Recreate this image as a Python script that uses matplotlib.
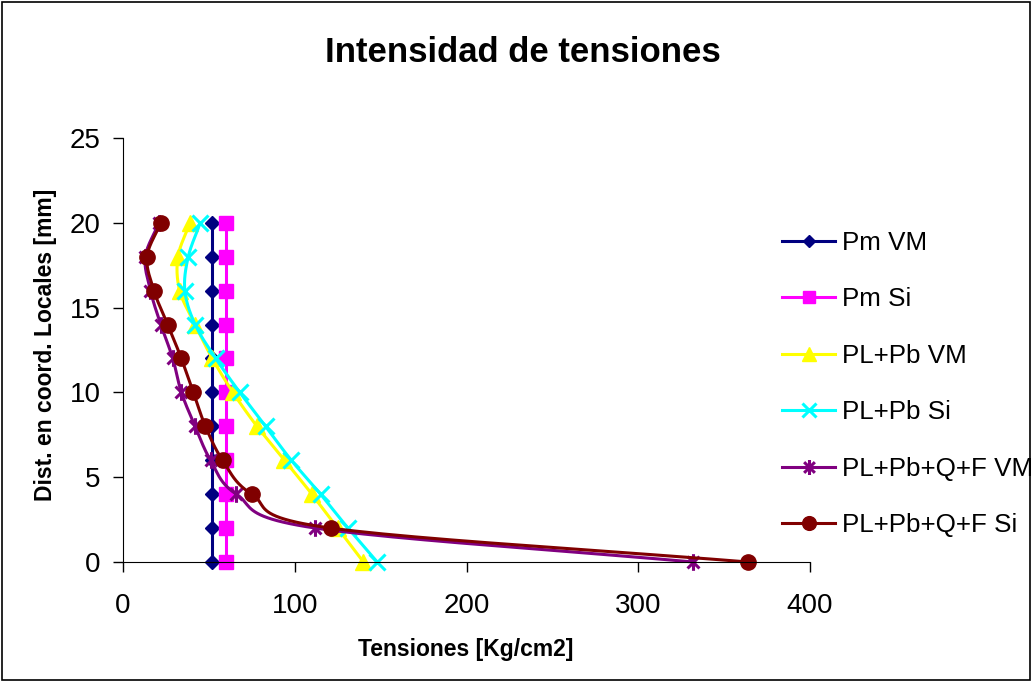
import numpy as np
import matplotlib.pyplot as plt
from matplotlib.path import Path
from matplotlib.patches import Rectangle

plt.rcParams['font.family'] = ['Liberation Sans', 'DejaVu Sans']

# distance along local coordinates [mm]
dist = [0, 2, 4, 6, 8, 10, 12, 14, 16, 18, 20]

# stresses [Kg/cm2] at each distance
pm_vm = [52, 52, 52, 52, 52, 52, 52, 52, 52, 52, 52]
pm_si = [60, 60, 60, 60, 60, 60, 60, 60, 60, 60, 60]
plpb_vm = [140, 125, 110, 94, 78, 64, 52, 42, 33, 32, 39]
plpb_si = [148, 131, 115, 98, 83, 68, 54, 42, 36, 38, 45]
plpbqf_vm = [332, 112, 66, 51, 42, 34, 29, 22, 16, 13, 21]
plpbqf_si = [364, 121, 75, 58, 48, 41, 34, 26, 18, 14, 22]

labels = ["Pm VM", "Pm Si", "PL+Pb VM", "PL+Pb Si", "PL+Pb+Q+F VM", "PL+Pb+Q+F Si"]
series = [pm_vm, pm_si, plpb_vm, plpb_si, plpbqf_vm, plpbqf_si]
colors = ["#000080", "#FF00FF", "#FFFF00", "#00FFFF", "#800080", "#800000"]

# asterisk marker: x with a vertical bar
star = Path([(-0.5, -0.5), (0.5, 0.5), (-0.5, 0.5), (0.5, -0.5), (0, -0.7), (0, 0.7)],
            [Path.MOVETO, Path.LINETO, Path.MOVETO, Path.LINETO, Path.MOVETO, Path.LINETO])
markers = ["D", "s", "^", "x", star, "o"]
msizes = [7, 10, 11, 11, 12, 11]


def smooth(xs, ys, n=24):
    # parametric Catmull-Rom through the points (spreadsheet-style smoothed line)
    px = np.array(xs, float)
    py = np.array(ys, float)
    px = np.concatenate([[2 * px[0] - px[1]], px, [2 * px[-1] - px[-2]]])
    py = np.concatenate([[2 * py[0] - py[1]], py, [2 * py[-1] - py[-2]]])
    ox, oy = [], []
    t = np.linspace(0, 1, n)
    for i in range(1, len(px) - 2):
        for arr, out in ((px, ox), (py, oy)):
            p0, p1, p2, p3 = arr[i - 1], arr[i], arr[i + 1], arr[i + 2]
            out.extend(0.5 * (2 * p1 + (-p0 + p2) * t + (2 * p0 - 5 * p1 + 4 * p2 - p3) * t ** 2
                              + (-p0 + 3 * p1 - 3 * p2 + p3) * t ** 3))
    return ox, oy


fig = plt.figure(figsize=(10.32, 6.81), dpi=100)
fig.patches.append(Rectangle((0.002, 0.002), 0.996, 0.995, transform=fig.transFigure,
                             fill=False, edgecolor="black", linewidth=1.2))
ax = fig.add_axes([123 / 1032, 1 - 562 / 681, 687 / 1032, 424 / 681])

handles = []
for vals, lab, col, mk, ms in zip(series, labels, colors, markers, msizes):
    sx, sy = smooth(vals, dist)
    ax.plot(sx, sy, color=col, linewidth=2.2, clip_on=False)
    mew = 2.2 if mk in ("x",) or mk is star else 1
    ax.plot(vals, dist, linestyle="none", marker=mk, markersize=ms, color=col,
            markeredgewidth=mew, clip_on=False)
    h, = ax.plot([], [], color=col, linewidth=2.2, marker=mk, markersize=ms * 0.9,
                 markeredgewidth=mew)
    handles.append(h)

ax.set_xlim(0, 400)
ax.set_ylim(0, 25)
ax.set_xticks([0, 100, 200, 300, 400])
ax.set_yticks([0, 5, 10, 15, 20, 25])
ax.tick_params(labelsize=20, direction="out", length=7, width=1)
ax.tick_params(axis="x", pad=15)
ax.tick_params(axis="y", pad=9)
ax.spines["top"].set_visible(False)
ax.spines["right"].set_visible(False)

ax.set_xlabel("Tensiones [Kg/cm2]", fontsize=16.5, fontweight="bold")
ax.set_ylabel("Dist. en coord. Locales [mm]", fontsize=16.5, fontweight="bold")
ax.xaxis.set_label_coords(0.499, -0.18)
ax.yaxis.set_label_coords(-0.096, 0.512)
fig.text(523 / 1032, 1 - 52 / 681, "Intensidad de tensiones", fontsize=25,
         fontweight="bold", ha="center", va="center")

fig.legend(handles, labels, loc="upper left", bbox_to_anchor=(782 / 1032, 1 - 231 / 681),
           frameon=False, fontsize=18.7, handlelength=2.05, handletextpad=0.27,
           labelspacing=1.25, borderpad=0, borderaxespad=0)

fig.savefig("out.png", dpi=100)
